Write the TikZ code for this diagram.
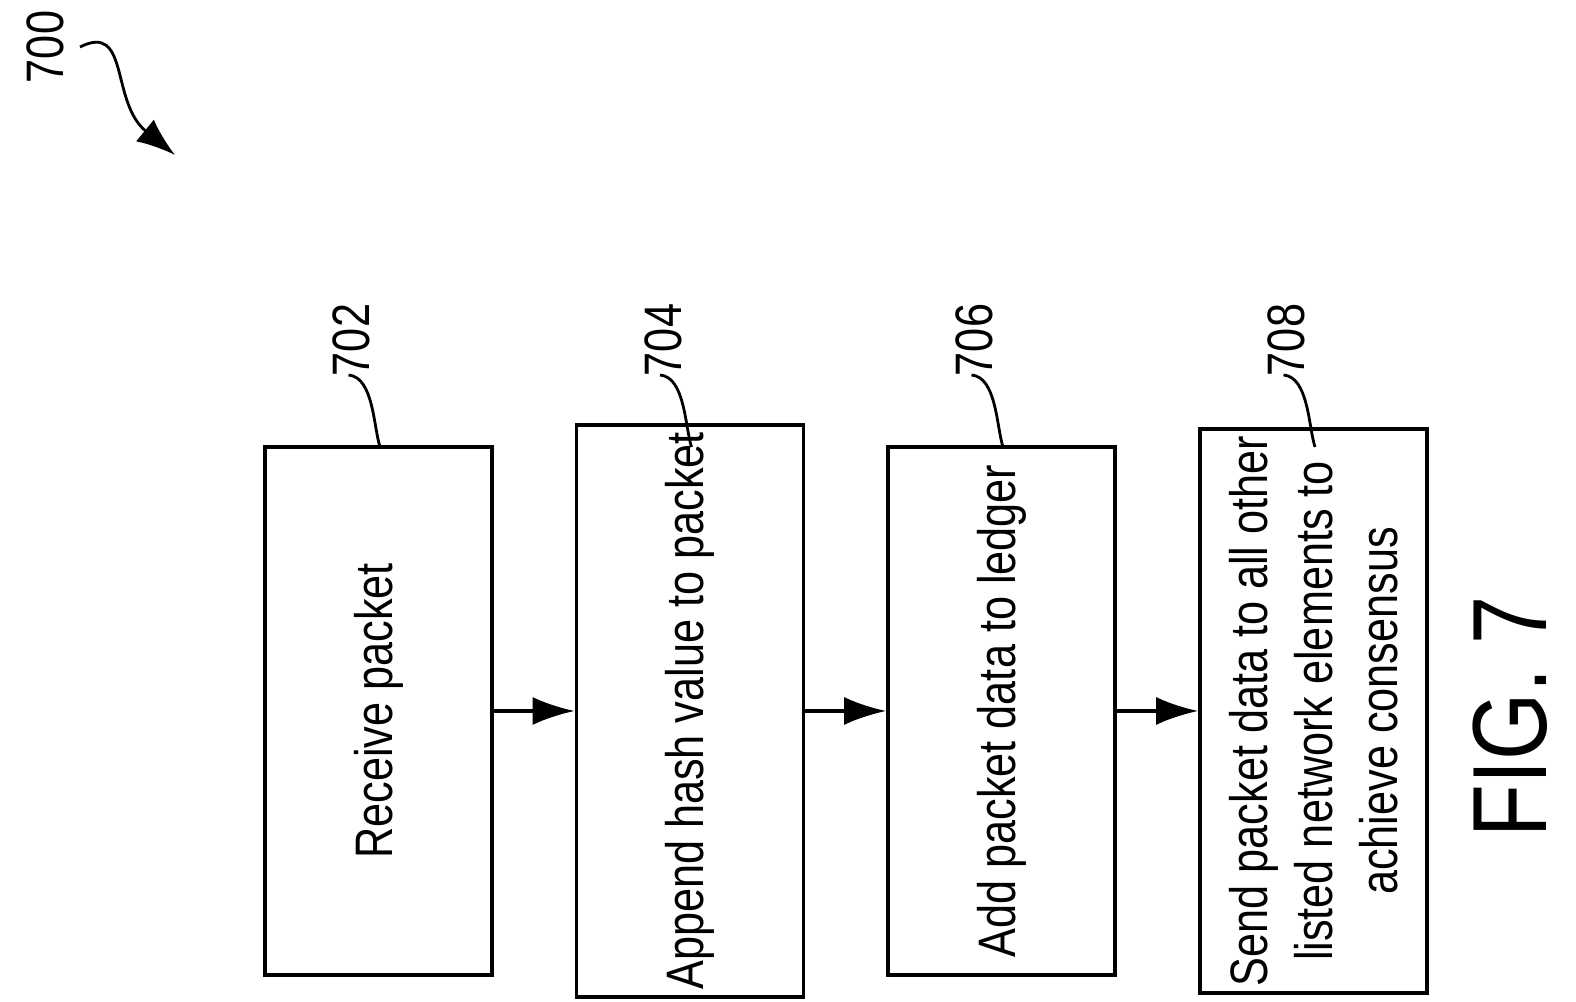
\documentclass[tikz,border=0pt]{standalone}
\usepackage{fontspec}
\setmainfont{Liberation Sans}[FakeStretch=0.82]
\usetikzlibrary{positioning,arrows.meta}
\begin{document}
\begin{tikzpicture}[x=1cm,y=1cm,
  step box/.style={draw, line width=1pt, rotate=90, minimum width=5.28cm, minimum height=2.27cm,
    align=center, font=\fontsize{15}{18.5}\selectfont, inner sep=2pt},
  ref label/.style={rotate=90, font=\fontsize{15}{18}\selectfont},
  flow/.style={-{Latex[length=12pt,width=8pt]}, line width=1pt}]
  \useasboundingbox (0,0) rectangle (15.76,10.02);
  % steps
  \node[step box] (702) at (3.785,2.91) {Receive packet};
  \node[step box] (704) at (6.90,2.91) {Append hash value to packet};
  \node[step box] (706) at (10.015,2.91) {Add packet data to ledger};
  \node[step box] (708) at (13.135,2.91) {Send packet data to all other\\listed network elements to\\achieve consensus};
  \draw[flow] (702) -- (704);
  \draw[flow] (704) -- (706);
  \draw[flow] (706) -- (708);
  % reference numerals
  \foreach \n/\x in {702/3.785,704/6.90,706/10.015,708/13.135} {
    \node[ref label] (l\n) at (\x-0.27,6.62) {\n};
    \draw[line width=0.8pt] (\x-0.30,6.27) .. controls (\x-0.05,6.25) and (\x-0.05,5.75) .. (\x+0.015,5.55);
  }
  \node[ref label] (l700) at (0.45,9.55) {700};
  \draw[-{Latex[length=11pt,width=8pt]}, line width=0.8pt] (0.80,9.55) .. controls (1.3,9.8) and (1.1,9.0) .. (1.75,8.47);
  \node[rotate=90, font=\fontsize{30}{32}\selectfont] (fig) at (15.10,2.85) {FIG. 7};
\end{tikzpicture}
\end{document}
